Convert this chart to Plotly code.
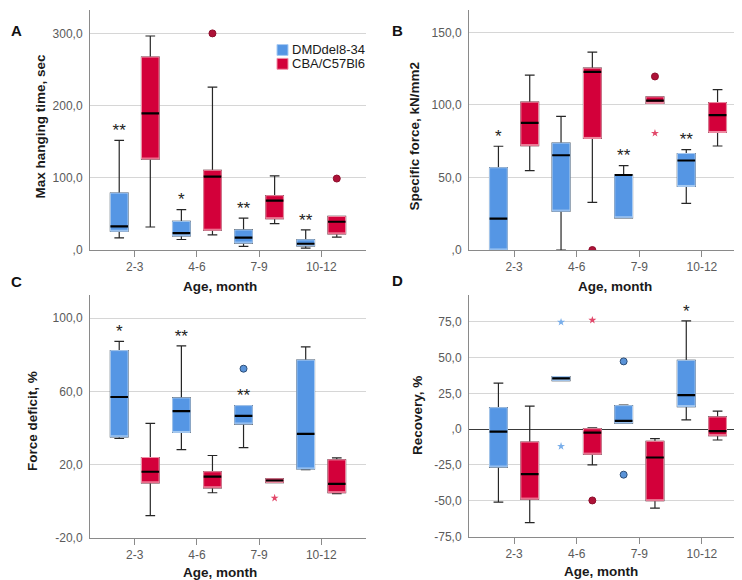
import plotly.graph_objects as go

# ---------------- data ----------------
categories = ["2-3", "4-6", "7-9", "10-12"]
groups = ["DMDdel8-34", "CBA/C57Bl6"]

# Panel A: Max hanging time, sec
A_DMD = dict(lower=[16.9, 14.6, 5.0, 2.7], q1=[26.0, 19.6, 9.6, 5.9],
             median=[32.8, 23.3, 17.3, 8.7], q3=[78.9, 39.7, 27.8, 14.1],
             upper=[151.8, 56.0, 44.2, 27.8])
A_CBA = dict(lower=[31.9, 21.0, 36.5, 17.8], q1=[125.9, 27.4, 43.3, 22.3],
             median=[189.2, 101.7, 68.4, 39.2], q3=[267.2, 110.4, 75.3, 46.5],
             upper=[296.4, 225.7, 102.6, 46.5])
A_SIG = ["**", "*", "**", "**"]
A_CBA_OUT_CAT = ["4-6", "10-12"]
A_CBA_OUT_VAL = [300.0, 99.0]

# Panel B: Specific force, kN/mm2
B_DMD = dict(lower=[0.0, 0.0, 22.2, 32.2], q1=[0.0, 26.8, 22.2, 43.8],
             median=[21.6, 65.3, 51.7, 61.7], q3=[56.7, 73.7, 51.7, 66.5],
             upper=[71.5, 92.1, 58.1, 69.2])
B_CBA = dict(lower=[54.7, 32.9, 101.0, 71.7], q1=[71.9, 76.9, 101.0, 81.0],
             median=[87.6, 122.8, 103.0, 93.0], q3=[101.9, 125.3, 105.5, 101.6],
             upper=[120.5, 136.4, 105.5, 110.5])
B_SIG = ["*", "", "**", "**"]
B_CBA_OUT_CAT = ["4-6", "7-9"]
B_CBA_OUT_VAL = [0.0, 119.6]
B_CBA_EXT_CAT = ["7-9"]
B_CBA_EXT_VAL = [80.5]

# Panel C: Force deficit, %
C_DMD = dict(lower=[34.2, 28.1, 29.2, 17.1], q1=[35.1, 37.5, 42.1, 17.5],
             median=[56.9, 49.2, 46.6, 36.7], q3=[82.3, 56.4, 52.2, 77.1],
             upper=[87.4, 84.9, 52.2, 84.3])
C_CBA = dict(lower=[-8.0, 4.5, 10.1, 4.0], q1=[9.9, 7.2, 10.1, 4.5],
             median=[16.0, 13.3, 11.2, 9.4], q3=[23.8, 16.0, 12.1, 22.5],
             upper=[42.5, 24.9, 12.1, 23.6])
C_SIG = ["*", "**", "**", ""]
C_DMD_OUT_CAT = ["7-9"]
C_DMD_OUT_VAL = [72.4]
C_CBA_EXT_CAT = ["7-9"]
C_CBA_EXT_VAL = [1.6]

# Panel D: Recovery, %
D_DMD = dict(lower=[-51.0, 33.9, 4.2, 6.5], q1=[-26.5, 33.9, 4.2, 15.7],
             median=[-1.8, 35.5, 5.8, 23.8], q3=[15.0, 36.7, 16.4, 48.0],
             upper=[32.1, 36.7, 16.8, 75.6])
D_CBA = dict(lower=[-65.3, -24.9, -55.1, -7.6], q1=[-48.9, -17.5, -50.0, -4.6],
             median=[-31.4, -2.5, -19.8, -1.4], q3=[-9.0, 0.3, -8.5, 8.5],
             upper=[16.1, 0.9, -6.7, 12.5])
D_SIG = ["", "", "", "*"]
D_DMD_OUT_CAT = ["7-9", "7-9"]
D_DMD_OUT_VAL = [47.3, -31.8]
D_DMD_EXT_CAT = ["4-6", "4-6"]
D_DMD_EXT_VAL = [74.7, -12.0]
D_CBA_OUT_CAT = ["4-6"]
D_CBA_OUT_VAL = [-49.8]
D_CBA_EXT_CAT = ["4-6"]
D_CBA_EXT_VAL = [76.1]

# y tick labels (decimal comma, SPSS style)
A_TICKS = [0, 100, 200, 300]
A_TICKTEXT = [",0", "100,0", "200,0", "300,0"]
B_TICKS = [0, 50, 100, 150]
B_TICKTEXT = [",0", "50,0", "100,0", "150,0"]
C_TICKS = [-20, 20, 60, 100]
C_TICKTEXT = ["-20,0", "20,0", "60,0", "100,0"]
D_TICKS = [-75, -50, -25, 0, 25, 50, 75]
D_TICKTEXT = ["-75,0", "-50,0", "-25,0", ",0", "25,0", "50,0", "75,0"]

Y_TITLES = ["Max hanging time, sec", "Specific force, kN/mm2", "Force deficit, %", "Recovery, %"]
X_TITLE = "Age, month"
LETTERS = ["A", "B", "C", "D"]

# ---------------- style ----------------
W, H = 742, 580
FONT = "Liberation Sans, Arial, sans-serif"
FILL = {"DMDdel8-34": "#5596E4", "CBA/C57Bl6": "#D3003A"}
EDGE = {"DMDdel8-34": "#A9CBF2", "CBA/C57Bl6": "#F08FA6"}
CIRCLE_FILL = {"DMDdel8-34": "#5A93D8", "CBA/C57Bl6": "#AE1238"}
CIRCLE_EDGE = {"DMDdel8-34": "#2E4F78", "CBA/C57Bl6": "#8E0E2C"}
STAR = {"DMDdel8-34": "#79AEEA", "CBA/C57Bl6": "#E2486A"}
OFFSET = {"DMDdel8-34": -0.25, "CBA/C57Bl6": 0.25}
BOX_W = 0.283
GRID = "#D6D6D6"
AXIS = "#8A8A8A"
TICKFONT = dict(family=FONT, size=12, color="#5A5A5A")
TITLEFONT = dict(family=FONT, size=13.5, color="#1A1A1A")
CAT_POS = {c: i for i, c in enumerate(categories)}


def px_x(v):
    return v / W


def px_y(v):
    return 1 - v / H


# panel geometry in pixels: (left, right, top, bottom)
PANELS = [
    dict(stats={"DMDdel8-34": A_DMD, "CBA/C57Bl6": A_CBA}, sig=A_SIG,
         out={"CBA/C57Bl6": (A_CBA_OUT_CAT, A_CBA_OUT_VAL)}, ext={},
         ticks=A_TICKS, ticktext=A_TICKTEXT, yrange=[0, 332.4],
         box=(82, 358, 2, 245), xt=(212, 282), yt=(33, 120), letter=(8, 23), zero=False),
    dict(stats={"DMDdel8-34": B_DMD, "CBA/C57Bl6": B_CBA}, sig=B_SIG,
         out={"CBA/C57Bl6": (B_CBA_OUT_CAT, B_CBA_OUT_VAL)},
         ext={"CBA/C57Bl6": (B_CBA_EXT_CAT, B_CBA_EXT_VAL)},
         ticks=B_TICKS, ticktext=B_TICKTEXT, yrange=[0, 165.4],
         box=(461, 739, 2, 245), xt=(607, 282), yt=(406, 130), letter=(390, 23), zero=False),
    dict(stats={"DMDdel8-34": C_DMD, "CBA/C57Bl6": C_CBA}, sig=C_SIG,
         out={"DMDdel8-34": (C_DMD_OUT_CAT, C_DMD_OUT_VAL)},
         ext={"CBA/C57Bl6": (C_CBA_EXT_CAT, C_CBA_EXT_VAL)},
         ticks=C_TICKS, ticktext=C_TICKTEXT, yrange=[-20, 113],
         box=(82, 358, 290, 536), xt=(212, 571), yt=(25, 418), letter=(8, 277), zero=False),
    dict(stats={"DMDdel8-34": D_DMD, "CBA/C57Bl6": D_CBA}, sig=D_SIG,
         out={"DMDdel8-34": (D_DMD_OUT_CAT, D_DMD_OUT_VAL), "CBA/C57Bl6": (D_CBA_OUT_CAT, D_CBA_OUT_VAL)},
         ext={"DMDdel8-34": (D_DMD_EXT_CAT, D_DMD_EXT_VAL), "CBA/C57Bl6": (D_CBA_EXT_CAT, D_CBA_EXT_VAL)},
         ticks=D_TICKS, ticktext=D_TICKTEXT, yrange=[-75, 94],
         box=(461, 739, 290, 535), xt=(593, 570), yt=(409, 413), letter=(390, 276), zero=True),
]

fig = go.Figure()
annotations = []
layout_axes = {}

for k, P in enumerate(PANELS):
    sfx = "" if k == 0 else str(k + 1)
    xa, ya = "x" + sfx, "y" + sfx
    l, r, t, b = P["box"]
    layout_axes["xaxis" + sfx] = dict(
        domain=[px_x(l), px_x(r)], anchor=ya, range=[-0.72, 3.72],
        tickvals=[CAT_POS[c] for c in categories], ticktext=categories,
        showline=True, linecolor=AXIS, linewidth=1, ticks="outside", ticklen=6,
        tickcolor=AXIS, showgrid=False, zeroline=False, tickfont=TICKFONT, fixedrange=True)
    layout_axes["yaxis" + sfx] = dict(
        domain=[px_y(b), px_y(t)], anchor=xa, range=P["yrange"],
        tickvals=P["ticks"], ticktext=P["ticktext"], showline=True, linecolor=AXIS,
        linewidth=1, ticks="", showgrid=True, gridcolor=GRID, gridwidth=1,
        zeroline=P["zero"], zerolinecolor="#3A3A3A", zerolinewidth=1,
        tickfont=TICKFONT, ticklabelstandoff=4, fixedrange=True)

    for g in groups:
        s = P["stats"][g]
        xs = [CAT_POS[c] + OFFSET[g] for c in categories]
        common = dict(x=xs, width=BOX_W, boxpoints=False, xaxis=xa, yaxis=ya,
                      showlegend=False, name=g, hoverinfo="skip")
        # whiskers (dark)
        fig.add_trace(go.Box(q1=s["q1"], median=s["median"], q3=s["q3"],
                             lowerfence=s["lower"], upperfence=s["upper"],
                             whiskerwidth=0.55, fillcolor=FILL[g],
                             line=dict(color="#262626", width=1.2), **common))
        # coloured box with light edge
        fig.add_trace(go.Box(q1=s["q1"], median=s["q1"], q3=s["q3"],
                             lowerfence=s["q1"], upperfence=s["q3"],
                             whiskerwidth=0, fillcolor=FILL[g],
                             line=dict(color=EDGE[g], width=1), **common))
        # median line
        fig.add_trace(go.Box(q1=s["median"], median=s["median"], q3=s["median"],
                             lowerfence=s["median"], upperfence=s["median"],
                             whiskerwidth=0, fillcolor="rgba(0,0,0,0)",
                             line=dict(color="#000000", width=2.2), **common))
        if g in P["out"]:
            cats, vals = P["out"][g]
            fig.add_trace(go.Scatter(
                x=[CAT_POS[c] + OFFSET[g] for c in cats], y=vals, mode="markers",
                marker=dict(symbol="circle", size=7, color=CIRCLE_FILL[g],
                            line=dict(color=CIRCLE_EDGE[g], width=1)),
                xaxis=xa, yaxis=ya, showlegend=False, hoverinfo="skip"))
        if g in P["ext"]:
            cats, vals = P["ext"][g]
            fig.add_trace(go.Scatter(
                x=[CAT_POS[c] + OFFSET[g] for c in cats], y=vals, mode="markers",
                marker=dict(symbol="star", size=6, color=STAR[g], line=dict(width=0)),
                xaxis=xa, yaxis=ya, showlegend=False, hoverinfo="skip"))

    # significance marks above DMD boxes
    g0 = groups[0]
    sx, sy, st = [], [], []
    for c, lab, up in zip(categories, P["sig"], P["stats"][g0]["upper"]):
        if lab:
            sx.append(CAT_POS[c] + OFFSET[g0])
            sy.append(up)
            st.append(lab)
    fig.add_trace(go.Scatter(x=sx, y=sy, text=st, mode="text", textposition="top center",
                             textfont=dict(family=FONT, size=17, color="#222222"),
                             xaxis=xa, yaxis=ya, showlegend=False, hoverinfo="skip",
                             cliponaxis=False))

    annotations.append(dict(text="<b>" + X_TITLE + "</b>", x=px_x(P["xt"][0]), y=px_y(P["xt"][1]),
                            xref="paper", yref="paper", showarrow=False, xanchor="center",
                            yanchor="middle", font=TITLEFONT))
    annotations.append(dict(text="<b>" + Y_TITLES[k] + "</b>", x=px_x(P["yt"][0]), y=px_y(P["yt"][1]),
                            xref="paper", yref="paper", showarrow=False, xanchor="center",
                            yanchor="middle", textangle=-90, font=TITLEFONT))
    annotations.append(dict(text="<b>" + LETTERS[k] + "</b>", x=px_x(P["letter"][0]), y=px_y(P["letter"][1]),
                            xref="paper", yref="paper", showarrow=False, xanchor="center",
                            yanchor="middle", font=dict(family=FONT, size=15, color="#111111")))

# legend (panel A, top right)
shapes = []
LEG_X, LEG_Y, LEG_STEP, SQ = 269, 37, 14, 11
for i, g in enumerate(groups):
    y0 = LEG_Y + i * LEG_STEP
    shapes.append(dict(type="rect", xref="paper", yref="paper",
                       x0=px_x(LEG_X), x1=px_x(LEG_X + SQ), y0=px_y(y0 + SQ), y1=px_y(y0),
                       fillcolor=FILL[g], line=dict(color=EDGE[g], width=1)))
    annotations.append(dict(text=g, x=px_x(LEG_X + SQ + 2), y=px_y(y0 + SQ / 2),
                            xref="paper", yref="paper", showarrow=False, xanchor="left",
                            yanchor="middle", font=dict(family=FONT, size=13, color="#1A1A1A")))

fig.update_layout(
    width=W, height=H, margin=dict(l=0, r=0, t=0, b=0),
    paper_bgcolor="white", plot_bgcolor="white", boxmode="overlay",
    showlegend=False, annotations=annotations, shapes=shapes,
    font=dict(family=FONT), **layout_axes)

fig.write_html("out.html")
